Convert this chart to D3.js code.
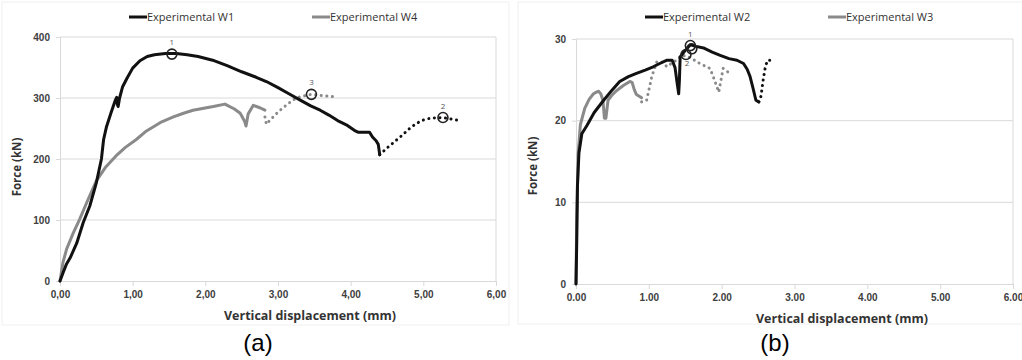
<!DOCTYPE html>
<html>
<head>
<meta charset="utf-8">
<script src="https://cdn.jsdelivr.net/npm/d3@7"></script>
<style>
body{margin:0;background:#fff;}
svg{display:block;font-family:"Open Sans",sans-serif;}
.tick text{font-weight:bold;fill:#404040;font-size:10px;}
</style>
</head>
<body>
<div id="chart"></div>
<script>
// panel (a) series, [displacement mm, force kN]
var w1Solid=[[0,0],[0.05,16],[0.09,28],[0.14,38],[0.23,62],[0.32,96],[0.41,123],[0.5,161],[0.57,200],[0.6,232],[0.64,253],[0.7,275],[0.76,296],[0.78,301],[0.79,289],[0.8,286],[0.82,300],[0.86,318],[0.92,332],[1.0,349],[1.1,361],[1.2,368],[1.3,371],[1.45,373],[1.6,373],[1.75,371],[1.9,368],[2.1,362],[2.3,353],[2.5,343],[2.7,334],[2.84,327],[3.0,317],[3.15,307],[3.3,297],[3.45,287],[3.58,280],[3.7,272],[3.82,263],[3.94,256],[4.05,247],[4.1,244],[4.26,244],[4.3,236],[4.35,230],[4.38,224],[4.4,207]];
var w1Dots=[[4.4,207],[4.5,218],[4.6,228],[4.7,238],[4.8,249],[4.9,258],[5.0,264],[5.1,267],[5.27,268],[5.4,265],[5.5,263]];
var w4Solid=[[0,0],[0.04,30],[0.09,52],[0.18,78],[0.27,101],[0.38,132],[0.5,164],[0.63,187],[0.77,205],[0.9,219],[1.05,232],[1.19,246],[1.4,261],[1.56,269],[1.7,275],[1.83,280],[2.11,286],[2.27,290],[2.4,282],[2.48,275],[2.54,262],[2.56,254],[2.59,274],[2.66,288],[2.75,284],[2.82,280]];
var w4Dots=[[2.82,269],[2.84,257],[2.9,265],[3.0,277],[3.1,287],[3.21,297],[3.3,302],[3.46,306],[3.6,304],[3.78,302]];
var markersA=[{x:1.54,y:372,label:"1"},{x:5.27,y:268,label:"2"},{x:3.46,y:306,label:"3"}];

// panel (b) series
var w2Solid=[[0,0],[0.01,5],[0.02,12],[0.04,16],[0.08,18.4],[0.15,19.4],[0.25,21],[0.38,22.5],[0.5,23.8],[0.6,24.8],[0.72,25.4],[0.83,25.8],[0.95,26.2],[1.06,26.6],[1.15,27],[1.25,27.4],[1.32,27.4],[1.36,26.5],[1.39,24.5],[1.41,23.3],[1.42,25],[1.43,27.8],[1.5,28.6],[1.57,29.3],[1.65,29.1],[1.75,28.9],[1.87,28.4],[1.98,28],[2.1,27.6],[2.21,27.4],[2.3,27],[2.35,26.3],[2.39,25.4],[2.43,24],[2.47,22.5],[2.51,22.3]];
var w2Dots=[[2.51,22.3],[2.54,23],[2.57,25],[2.6,26.6],[2.63,27.4],[2.71,27.4]];
var w3Solid=[[0,0],[0.01,8],[0.03,16],[0.06,19.5],[0.12,21.5],[0.18,22.6],[0.24,23.3],[0.28,23.5],[0.31,23.6],[0.34,23.3],[0.37,22.5],[0.39,20.3],[0.41,20.3],[0.44,22.5],[0.5,23.2],[0.56,23.7],[0.65,24.3],[0.74,24.8],[0.77,24.7],[0.8,23.8],[0.83,23.2],[0.9,22.8]];
var w3Dots=[[0.9,22.3],[0.97,22.5],[1.04,25.4],[1.11,27.2],[1.18,27.2],[1.25,26.6],[1.32,27.1],[1.38,27.4],[1.45,28.0],[1.52,27.9],[1.59,27.6],[1.7,27],[1.84,26.4],[1.9,25],[1.96,23.5],[2.02,26.4],[2.08,26],[2.14,25.6]];
var markersB=[{x:1.57,y:29.2,label:"1"},{x:1.59,y:28.8,label:""},{x:1.51,y:28.1,label:"2"}];

var xTicks=[0,1,2,3,4,5,6];
var yTicksA=[0,100,200,300,400];
var yTicksB=[0,10,20,30];

var black="#111",grey="#8a8a8a",gridCol="#d9d9d9";

var svg=d3.select("#chart").append("svg").attr("width",1022).attr("height",360);

function panel(cfg){
	var g=svg.append("g");
	var x=d3.scaleLinear().domain([0,6]).range([cfg.left,cfg.right]);
	var y=d3.scaleLinear().domain([0,cfg.ymax]).range([cfg.bottom,cfg.top]);

	// faint outer frame of the excel chart
	g.append("rect").attr("x",cfg.frame[0]).attr("y",cfg.frame[1]).attr("width",cfg.frame[2]).attr("height",cfg.frame[3])
		.style("fill","none").style("stroke","#f0f0f0");

	// gridlines
	g.selectAll(".grid").data(cfg.yTicks.filter(function(d){return d>0;})).enter().append("line")
		.attr("x1",cfg.left).attr("x2",cfg.right)
		.attr("y1",function(d){return y(d);}).attr("y2",function(d){return y(d);})
		.style("stroke",gridCol).style("stroke-width",1);
	g.append("line").attr("x1",cfg.right).attr("x2",cfg.right).attr("y1",cfg.top).attr("y2",cfg.bottom)
		.style("stroke",gridCol);

	var fmt=function(d){var s=d3.format(".2f")(d);return cfg.comma?s.replace(".",","):s;};
	var xa=g.append("g").attr("transform","translate(0,"+cfg.bottom+")")
		.call(d3.axisBottom(x).tickValues(xTicks).tickFormat(fmt).tickSize(5).tickPadding(5));
	var ya=g.append("g").attr("transform","translate("+cfg.left+",0)")
		.call(d3.axisLeft(y).tickValues(cfg.yTicks).tickSize(4).tickPadding(6));
	[xa,ya].forEach(function(a){
		a.select(".domain").style("stroke",gridCol);
		a.selectAll(".tick line").style("stroke",gridCol);
	});

	var line=d3.line().x(function(d){return x(d[0]);}).y(function(d){return y(d[1]);});

	cfg.series.forEach(function(s){
		g.append("path").datum(s.data).attr("d",line)
			.style("fill","none").style("stroke",s.color)
			.style("stroke-width",3)
			.style("stroke-linejoin","round")
			.style("stroke-linecap","round")
			.style("stroke-dasharray",s.dotted?"0.1,5.5":null);
	});

	var mk=g.selectAll(".mk").data(cfg.markers).enter().append("g");
	mk.append("circle").attr("cx",function(d){return x(d.x);}).attr("cy",function(d){return y(d.y);})
		.attr("r",5).style("fill","none").style("stroke","#222").style("stroke-width",1.6);
	mk.append("text").attr("x",function(d){return x(d.x)+(d.dx||0);})
		.attr("y",function(d){return y(d.y)+(d.dy||-9);})
		.style("text-anchor","middle").style("font-size","8px").style("fill","#555")
		.text(function(d){return d.label;});

	// legend
	cfg.legend.forEach(function(l){
		g.append("line").attr("x1",l.x).attr("x2",l.x+18).attr("y1",17).attr("y2",17)
			.style("stroke",l.color).style("stroke-width",3);
		g.append("text").attr("x",l.x+18).attr("y",21).style("font-size","11px").style("fill","#333")
			.text(l.name);
	});

	g.append("text").attr("transform","translate("+cfg.yTitleX+","+cfg.yTitleY+") rotate(-90)")
		.style("text-anchor","middle").style("font-weight","bold").style("font-size","11.5px").style("fill","#333")
		.text("Force (kN)");
	g.append("text").attr("x",cfg.xTitleX).attr("y",cfg.bottom+39)
		.style("text-anchor","middle").style("font-weight","bold").style("font-size","12.5px").style("fill","#333")
		.text("Vertical displacement (mm)");
	g.append("text").attr("x",cfg.capX).attr("y",351)
		.style("text-anchor","middle").style("font-family","'Liberation Sans',Arial,sans-serif").style("font-size","24px").style("fill","#000")
		.text(cfg.caption);
}

markersB[2].dy=11;markersB[2].dx=1;

panel({left:60,right:496,top:37,bottom:281,ymax:400,yTicks:yTicksA,comma:true,
	frame:[2,2,507,323],
	series:[{data:w4Solid,color:grey},{data:w4Dots,color:grey,dotted:true},{data:w1Solid,color:black},{data:w1Dots,color:black,dotted:true}],
	markers:markersA,
	legend:[{x:129,color:black,name:"Experimental W1"},{x:312,color:grey,name:"Experimental W4"}],
	yTitleX:21,yTitleY:167,xTitleX:310,capX:258,caption:"(a)"});

panel({left:576,right:1013,top:39,bottom:284,ymax:30,yTicks:yTicksB,comma:false,
	frame:[518,2,510,322],
	series:[{data:w3Solid,color:grey},{data:w3Dots,color:grey,dotted:true},{data:w2Solid,color:black},{data:w2Dots,color:black,dotted:true}],
	markers:markersB,
	legend:[{x:645,color:black,name:"Experimental W2"},{x:828,color:grey,name:"Experimental W3"}],
	yTitleX:537,yTitleY:166,xTitleX:842,capX:775,caption:"(b)"});
</script>
</body>
</html>
